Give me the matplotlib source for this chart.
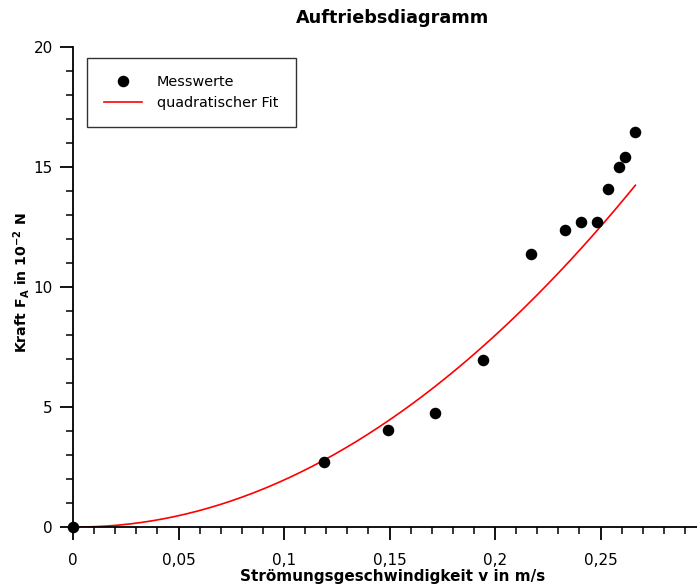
import numpy as np
import matplotlib
matplotlib.use("Agg")
import matplotlib.pyplot as plt
from matplotlib.ticker import MultipleLocator, FuncFormatter

v = [0.0, 0.1188, 0.1491, 0.1716, 0.1942, 0.2171, 0.2330, 0.2408, 0.2485,
     0.2537, 0.2586, 0.2616, 0.2665]
F = [0.0, 2.72, 4.04, 4.74, 6.96, 11.36, 12.38, 12.69, 12.69,
     14.07, 15.01, 15.40, 16.47]

# quadratischer Fit: F = a*v^2 + b*v + c
fit_a, fit_b, fit_c = 203.3, -0.75, 0.0
fit_vmax = 0.2665

plt.rcParams['mathtext.fontset'] = 'dejavusans'
fig = plt.figure(figsize=(6.97, 5.88), dpi=100)
ax = fig.add_axes([73/697, 61/588, 624/697, 480/588])

vv = np.linspace(0, fit_vmax, 200)
ax.plot(vv, fit_a*vv**2 + fit_b*vv + fit_c, color='red', lw=1.2, label='quadratischer Fit', zorder=2)
ax.plot(v, F, 'o', color='black', ms=7.3, label='Messwerte', zorder=3, clip_on=False)

ax.set_xlim(0, 0.2957)
ax.set_ylim(0, 20)
ax.xaxis.set_major_locator(MultipleLocator(0.05))
ax.xaxis.set_minor_locator(MultipleLocator(0.01))
ax.yaxis.set_major_locator(MultipleLocator(5))
ax.yaxis.set_minor_locator(MultipleLocator(1))
ax.xaxis.set_major_formatter(FuncFormatter(lambda x, p: f"{x:g}".replace('.', ',')))
ax.yaxis.set_major_formatter(FuncFormatter(lambda y, p: f"{y:g}"))

for s in ['top', 'right']:
    ax.spines[s].set_visible(False)
for s in ['left', 'bottom']:
    ax.spines[s].set_linewidth(1.3)
ax.tick_params(which='major', direction='out', length=9.4, width=1.3, labelsize=11)
ax.tick_params(which='minor', direction='out', length=5, width=1.1)
ax.tick_params(axis='x', which='major', pad=9)
ax.tick_params(axis='y', which='major', pad=5)

fig.text(393/697, 1 - 18/588, 'Auftriebsdiagramm', ha='center', va='center',
         fontsize=12.7, fontweight='bold')
fig.text(393/697, 1 - 577/588, 'Strömungsgeschwindigkeit v in m/s', ha='center', va='center',
         fontsize=11, fontweight='bold')
fig.text(22/697, 1 - 283/588, r'Kraft F$_\mathbf{A}$ in 10$^{\mathbf{-2}}$ N', ha='center', va='center',
         rotation=90, fontsize=10.2, fontweight='bold')

handles, labels = ax.get_legend_handles_labels()
leg = ax.legend(handles[::-1], labels[::-1], loc='upper left', bbox_to_anchor=(14/624, 1 - 11/480),
                borderaxespad=0, fontsize=10.4, frameon=True, fancybox=False, edgecolor='black',
                borderpad=1.2, handlelength=2.6, handletextpad=1.05, labelspacing=0.45)
leg.get_frame().set_linewidth(1.0)

fig.savefig('out.png', dpi=100)
